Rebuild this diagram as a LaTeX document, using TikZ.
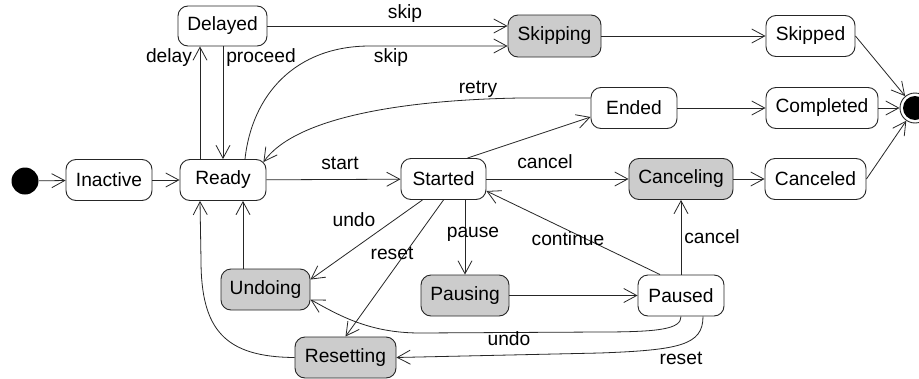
\documentclass[tikz,border=0pt]{standalone}
\usepackage{fontspec}
\setmainfont{Liberation Sans}
\usetikzlibrary{arrows.meta}
\begin{document}
\begin{tikzpicture}[x=1pt,y=-1pt,
  every node/.style={font=\fontsize{19.2}{21}\selectfont},
  state/.style={draw=black!85, line width=0.9pt, rounded corners=10pt, fill=white, minimum height=41pt, inner sep=0pt},
  busy/.style={state, fill=black!20},
  tr/.style={draw=black!85, line width=0.8pt, -{Straight Barb[length=13pt,width=14pt]}},
  lbl/.style={inner sep=0pt}]
\fill[white] (0,0) rectangle (919,378);
\useasboundingbox (0,0) rectangle (919,378);
% states
\node[circle, fill=black, minimum size=27pt, inner sep=0pt] (init) at (25,181) {};
\node[state, minimum width=86pt] (Inactive) at (109,180) {Inactive};
\node[state, minimum width=86pt] (Ready) at (223,180) {Ready};
\node[state, minimum width=89pt, minimum height=40pt] (Delayed) at (222.5,26) {Delayed};
\node[busy, minimum width=93pt, minimum height=42pt] (Skipping) at (554.5,36) {Skipping};
\node[state, minimum width=89pt] (Skipped) at (810.5,36) {Skipped};
\node[state, minimum width=86pt] (Ended) at (634,108) {Ended};
\node[state, minimum width=112pt] (Completed) at (822,108) {Completed};
\node[state, minimum width=85pt] (Started) at (443.5,179) {Started};
\node[busy, minimum width=104pt] (Canceling) at (681,179) {Canceling};
\node[state, minimum width=101pt] (Canceled) at (815.5,179) {Canceled};
\node[busy, minimum width=89pt] (Undoing) at (265.5,289.5) {Undoing};
\node[busy, minimum width=88pt] (Pausing) at (465,295.5) {Pausing};
\node[state, minimum width=86pt] (Paused) at (681,295.5) {Paused};
\node[busy, minimum width=101pt] (Resetting) at (345.5,357.5) {Resetting};
\node[circle, draw=black!85, line width=0.9pt, minimum size=30pt, inner sep=0pt] (final) at (915,108) {};
\fill (final.center) circle (12pt);
% transitions
\draw[tr] (init) -- (Inactive);
\draw[tr] (Inactive) -- (Ready);
\draw[tr] ([xshift=-23pt]Ready.north) -- ([xshift=-22.5pt]Delayed.south);
\draw[tr] ([xshift=0.5pt]Delayed.south) -- (Ready.north);
\draw[tr] (Delayed.east) -- ([yshift=10pt]Skipping.west);
\draw[tr] ([xshift=22pt]Ready.north) .. controls (252,95) and (295,46) .. (370,46) -- ([yshift=-10pt]Skipping.west);
\draw[tr] (Skipping) -- (Skipped);
\draw[tr] ([yshift=10pt]Ended.west) -- (520,98) .. controls (400,100) and (295,118) .. ([xshift=-3pt,yshift=-3pt]Ready.north east);
\draw[tr] ([xshift=24pt]Started.north) -- ([yshift=-9pt]Ended.west);
\draw[tr] (Ready) -- (Started);
\draw[tr] (Started) -- (Canceling);
\draw[tr] (Canceling) -- (Canceled);
\draw[tr] (Ended) -- (Completed);
\draw[tr] (Skipped.east) -- (final);
\draw[tr] (Completed) -- (final);
\draw[tr] (Canceled.east) -- (final);
\draw[tr] ([xshift=-21pt]Started.south) -- ([yshift=10pt]Undoing.east);
\draw[tr] (Started.south) -- (Resetting.north);
\draw[tr] ([xshift=21.5pt]Started.south) -- (Pausing.north);
\draw[tr] (Pausing) -- (Paused);
\draw[tr] ([xshift=-21pt]Paused.north) -- ([yshift=-12pt]Started.east);
\draw[tr] (Paused.north) -- (Canceling.south);
\draw[tr] (Paused.south) .. controls (681,329) and (660,332) .. (600,332) -- (420,333) .. controls (370,333) and (340,316) .. ([yshift=-10pt]Undoing.east);
\draw[tr] ([xshift=22pt]Paused.south) .. controls (703,345) and (680,350) .. (600,353) -- (Resetting.east);
\draw[tr] (Resetting.west) .. controls (225,357) and (201,330) .. (201,260) -- ([xshift=-23pt]Ready.south);
\draw[tr] ([xshift=-22.5pt]Undoing.north) -- ([xshift=20pt]Ready.south);
% labels
\node[lbl] (l-delay) at (169,58) {delay};
\node[lbl] (l-proceed) at (261,58) {proceed};
\node[lbl] (l-skip1) at (405,14) {skip};
\node[lbl] (l-skip2) at (391,58) {skip};
\node[lbl] (l-retry) at (478,89) {retry};
\node[lbl] (l-start) at (340,163) {start};
\node[lbl] (l-cancel1) at (545,162) {cancel};
\node[lbl] (l-undo1) at (354,220) {undo};
\node[lbl] (l-reset1) at (392,253) {reset};
\node[lbl] (l-pause) at (473,234) {pause};
\node[lbl] (l-continue) at (568,239) {continue};
\node[lbl] (l-cancel2) at (712,237) {cancel};
\node[lbl] (l-undo2) at (509,339) {undo};
\node[lbl] (l-reset2) at (681,358) {reset};
\end{tikzpicture}
\end{document}
